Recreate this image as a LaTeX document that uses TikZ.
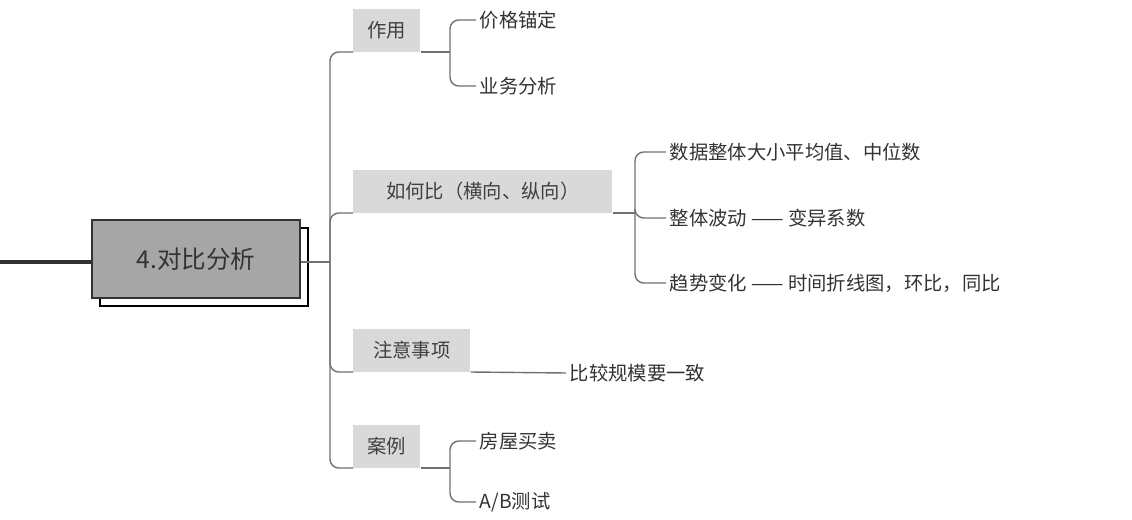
\documentclass[tikz,border=0pt]{standalone}
\usepackage{fontspec}
\setmainfont{Noto Sans CJK SC}
\usetikzlibrary{positioning}
\definecolor{tagfill}{HTML}{D9D9D9}
\definecolor{mainfill}{HTML}{A6A6A6}
\definecolor{linegray}{HTML}{707070}
\tikzset{
  tag/.style={fill=tagfill, anchor=south west, minimum height=24pt, inner xsep=6pt, font=\fontsize{11}{13}\selectfont, text=black!75},
  leaf/.style={anchor=west, inner sep=2pt, font=\fontsize{11}{13}\selectfont, text=black!80},
  link/.style={draw=linegray, line width=0.8pt, rounded corners=5pt},
}
\begin{document}
\begin{tikzpicture}[x=0.02cm, y=-0.02cm]
  \useasboundingbox (0,0) rectangle (1132,520);

  % central topic
  \draw[line width=1.6pt, fill=white] (100,228) rectangle (308,306);
  \node[draw=black!80, line width=1.6pt, fill=mainfill, minimum width=208*0.02cm, minimum height=78*0.02cm, font=\fontsize{14}{16}\selectfont, text=black!80] (main) at (196,259) {4.对比分析};
  \coordinate (root) at (0,262);
  \draw[line width=2pt, black!80] (root) -- (main.west |- root);

  % main branches
  \node[tag, minimum width=67*0.02cm] (use) at (353,52) {作用};
  \node[tag, minimum width=259*0.02cm, anchor=south west] (how) at (353,213) {如何比（横向、纵向）};
  \node[tag, minimum width=117*0.02cm] (note) at (353,372) {注意事项};
  \node[tag, minimum width=67*0.02cm] (case) at (353,468) {案例};

  \coordinate (hub) at (330,262);
  \draw[link] (main.east |- hub) -- (hub);
  \foreach \n in {use, how, note, case}
    \draw[link] (hub) -- (hub |- \n.south west) -- (\n.south west);

  % 作用
  \node[leaf] (u1) at (476,20) {价格锚定};
  \node[leaf] (u2) at (476,86) {业务分析};
  \coordinate (ub) at (450,52);
  \draw[link] (use.south east) -- (ub);
  \foreach \n in {u1, u2}
    \draw[link] (ub) -- (ub |- \n.west) -- (\n.west);

  % 如何比
  \node[leaf] (h1) at (666,152) {数据整体大小平均值、中位数};
  \node[leaf] (h2) at (666,218) {整体波动 —— 变异系数};
  \node[leaf] (h3) at (666,283) {趋势变化 —— 时间折线图，环比，同比};
  \coordinate (hb) at (635,213);
  \draw[link] (how.south east) -- (hb);
  \foreach \n in {h1, h2, h3}
    \draw[link] (hb) -- (hb |- \n.west) -- (\n.west);

  % 注意事项
  \node[leaf] (n1) at (566,373) {比较规模要一致};
  \draw[link] (note.south east) -- (n1.west);

  % 案例
  \node[leaf] (c1) at (476,441) {房屋买卖};
  \node[leaf] (c2) at (476,502) {A/B测试};
  \coordinate (cb) at (450,468);
  \draw[link] (case.south east) -- (cb);
  \foreach \n in {c1, c2}
    \draw[link] (cb) -- (cb |- \n.west) -- (\n.west);
\end{tikzpicture}
\end{document}
